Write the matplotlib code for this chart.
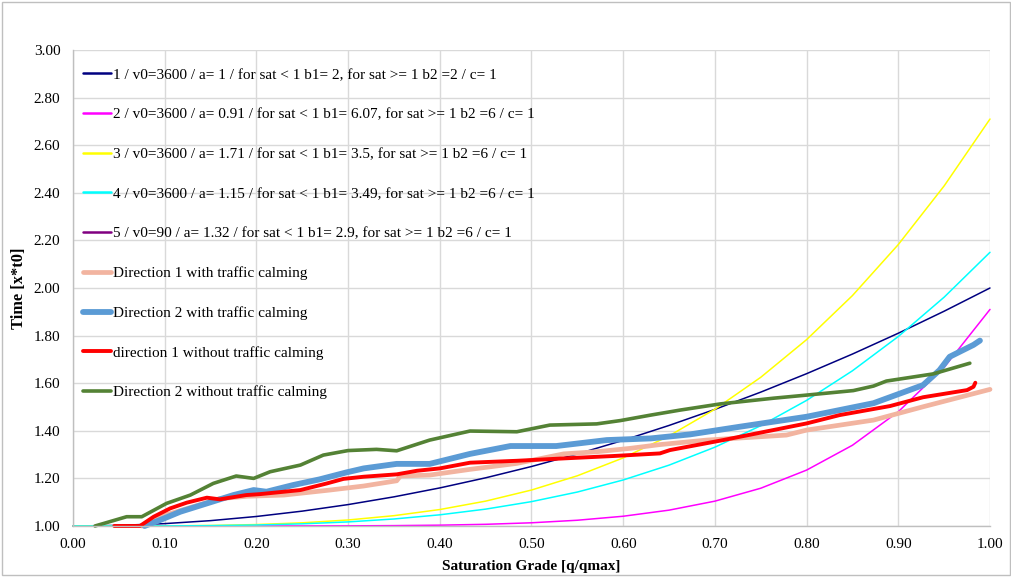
import matplotlib
matplotlib.use("Agg")
import matplotlib.pyplot as plt
from matplotlib.patches import Rectangle

plt.rcParams['font.family'] = ['Liberation Serif', 'DejaVu Serif']

# ---- theoretical BPR curves (values read at 0.05 steps) ----
x_theo = [0.00, 0.05, 0.10, 0.15, 0.20, 0.25, 0.30, 0.35, 0.40, 0.45, 0.50,
          0.55, 0.60, 0.65, 0.70, 0.75, 0.80, 0.85, 0.90, 0.95, 1.00]
y_c1 = [1.0000, 1.0025, 1.0100, 1.0225, 1.0400, 1.0625, 1.0900, 1.1225, 1.1600, 1.2025, 1.2500,
        1.3025, 1.3600, 1.4225, 1.4900, 1.5625, 1.6400, 1.7225, 1.8100, 1.9025, 2.0000]
y_c2 = [1.0000, 1.0000, 1.0000, 1.0000, 1.0001, 1.0002, 1.0006, 1.0016, 1.0035, 1.0071, 1.0135,
        1.0242, 1.0410, 1.0666, 1.1044, 1.1587, 1.2349, 1.3393, 1.4801, 1.6665, 1.9100]
y_c3 = [1.0000, 1.0000, 1.0005, 1.0022, 1.0061, 1.0134, 1.0253, 1.0434, 1.0692, 1.1045, 1.1511,
        1.2110, 1.2861, 1.3786, 1.4907, 1.6248, 1.7831, 1.9682, 2.1826, 2.4290, 2.7100]
y_c4 = [1.0000, 1.0000, 1.0004, 1.0015, 1.0042, 1.0091, 1.0172, 1.0295, 1.0470, 1.0709, 1.1024,
        1.1427, 1.1934, 1.2557, 1.3312, 1.4214, 1.5278, 1.6522, 1.7962, 1.9615, 2.1500]
x_c5 = []
y_c5 = []

# ---- measured curves ----
x_d1_with = [0.075, 0.10, 0.13, 0.16, 0.19, 0.23, 0.28, 0.317, 0.353, 0.357, 0.389, 0.433, 0.484,
             0.535, 0.571, 0.607, 0.640, 0.691, 0.778, 0.800, 0.873, 0.927, 1.000]
y_d1_with = [1.000, 1.045, 1.080, 1.115, 1.125, 1.130, 1.151, 1.168, 1.190, 1.210, 1.214, 1.238, 1.263,
             1.303, 1.312, 1.326, 1.342, 1.361, 1.382, 1.403, 1.445, 1.501, 1.574]

x_d2_with = [0.078, 0.095, 0.117, 0.146, 0.175, 0.197, 0.211, 0.240, 0.269, 0.298, 0.317, 0.353,
             0.389, 0.433, 0.477, 0.527, 0.582, 0.630, 0.673, 0.727, 0.800, 0.873, 0.927, 0.945,
             0.956, 0.982, 0.989]
y_d2_with = [1.000, 1.025, 1.060, 1.095, 1.130, 1.151, 1.144, 1.172, 1.196, 1.225, 1.242, 1.261,
             1.261, 1.303, 1.336, 1.336, 1.361, 1.368, 1.385, 1.417, 1.459, 1.516, 1.592, 1.655,
             1.711, 1.761, 1.779]

x_d1_without = [0.045, 0.073, 0.088, 0.106, 0.124, 0.146, 0.160, 0.189, 0.204, 0.248, 0.277, 0.295,
                0.317, 0.353, 0.375, 0.400, 0.433, 0.484, 0.535, 0.589, 0.640, 0.651, 0.709, 0.800,
                0.836, 0.891, 0.927, 0.975, 0.982, 0.984]
y_d1_without = [1.000, 1.000, 1.039, 1.074, 1.098, 1.119, 1.112, 1.130, 1.134, 1.151, 1.179, 1.198,
                1.207, 1.217, 1.232, 1.242, 1.266, 1.274, 1.284, 1.294, 1.305, 1.319, 1.361, 1.431,
                1.466, 1.504, 1.541, 1.571, 1.585, 1.602]

x_d2_without = [0.024, 0.0585, 0.075, 0.102, 0.128, 0.153, 0.178, 0.197, 0.215, 0.248, 0.273, 0.300,
                0.331, 0.353, 0.389, 0.433, 0.484, 0.520, 0.571, 0.597, 0.630, 0.662, 0.706, 0.764,
                0.800, 0.851, 0.873, 0.887, 0.938, 0.978]
y_d2_without = [1.000, 1.039, 1.039, 1.095, 1.130, 1.179, 1.210, 1.200, 1.228, 1.256, 1.298, 1.317,
                1.322, 1.316, 1.361, 1.399, 1.396, 1.424, 1.429, 1.443, 1.466, 1.487, 1.513, 1.537,
                1.550, 1.569, 1.588, 1.609, 1.639, 1.684]

labels = [
    "1 / v0=3600 / a= 1 / for sat < 1 b1= 2, for sat >= 1 b2 =2 / c= 1",
    "2 / v0=3600 / a= 0.91 / for sat < 1 b1= 6.07, for sat >= 1 b2 =6 / c= 1",
    "3 / v0=3600 / a= 1.71 / for sat < 1 b1= 3.5, for sat >= 1 b2 =6 / c= 1",
    "4 / v0=3600 / a= 1.15 / for sat < 1 b1= 3.49, for sat >= 1 b2 =6 / c= 1",
    "5 / v0=90 / a= 1.32 / for sat < 1 b1= 2.9, for sat >= 1 b2 =6 / c= 1",
    "Direction 1 with traffic calming",
    "Direction 2 with traffic calming",
    "direction 1 without traffic calming",
    "Direction 2 without traffic calming",
]
x_ticks = [0.0, 0.1, 0.2, 0.3, 0.4, 0.5, 0.6, 0.7, 0.8, 0.9, 1.0]
y_ticks = [1.0, 1.2, 1.4, 1.6, 1.8, 2.0, 2.2, 2.4, 2.6, 2.8, 3.0]

fig = plt.figure(figsize=(10.12, 5.77), dpi=100)
ax = fig.add_axes([73/1012, 1-526/577, (990-73)/1012, (526-50)/577])

series = [
    (x_theo, y_c1, '#000080', 1.1),
    (x_theo, y_c2, '#FF00FF', 1.1),
    (x_theo, y_c3, '#FFFF00', 1.1),
    (x_theo, y_c4, '#00FFFF', 1.1),
    (x_c5, y_c5, '#800080', 2.0),
    (x_d1_with, y_d1_with, '#F2B4A0', 3.4),
    (x_d2_with, y_d2_with, '#5B9BD5', 4.2),
    (x_d1_without, y_d1_without, '#FF0000', 2.8),
    (x_d2_without, y_d2_without, '#548235', 2.6),
]
for (xs, ys, c, lw), lab in zip(series, labels):
    ax.plot(xs, ys, color=c, lw=lw, label=lab, solid_capstyle='round',
            solid_joinstyle='round', clip_on=False)

ax.set_xlim(0, 1)
ax.set_ylim(1, 3)
ax.set_xticks(x_ticks)
ax.set_yticks(y_ticks)
ax.set_xticklabels([f"{v:.2f}" for v in x_ticks])
ax.set_yticklabels([f"{v:.2f}" for v in y_ticks])
ax.tick_params(length=0, labelsize=11, colors='#000000')
ax.tick_params(axis='x', pad=9)
ax.tick_params(axis='y', pad=9)
ax.grid(True, color='#D9D9D9', lw=1.0)
ax.set_axisbelow(True)
for s in ['top', 'right']:
    ax.spines[s].set_visible(False)
for s in ['left', 'bottom']:
    ax.spines[s].set_color('#BFBFBF')
    ax.spines[s].set_linewidth(1.0)

ax.set_xlabel("Saturation Grade [q/qmax]", fontsize=11, fontweight='bold', labelpad=6)
ax.set_ylabel("Time [x*t0]", fontsize=11.8, fontweight='bold', labelpad=5)

leg = ax.legend(loc='upper left', bbox_to_anchor=(0.011, 0.962), frameon=False,
                fontsize=11, handlelength=1.85, handletextpad=0.08,
                labelspacing=1.7, borderaxespad=0, borderpad=0)
for h in leg.get_lines()[:5]:
    h.set_linewidth(1.8)

fig.patches.append(Rectangle((0.002, 0.004), 0.996, 0.992, transform=fig.transFigure,
                             fill=False, edgecolor='#BFBFBF', lw=1.0))

fig.savefig("out.png", dpi=100)
